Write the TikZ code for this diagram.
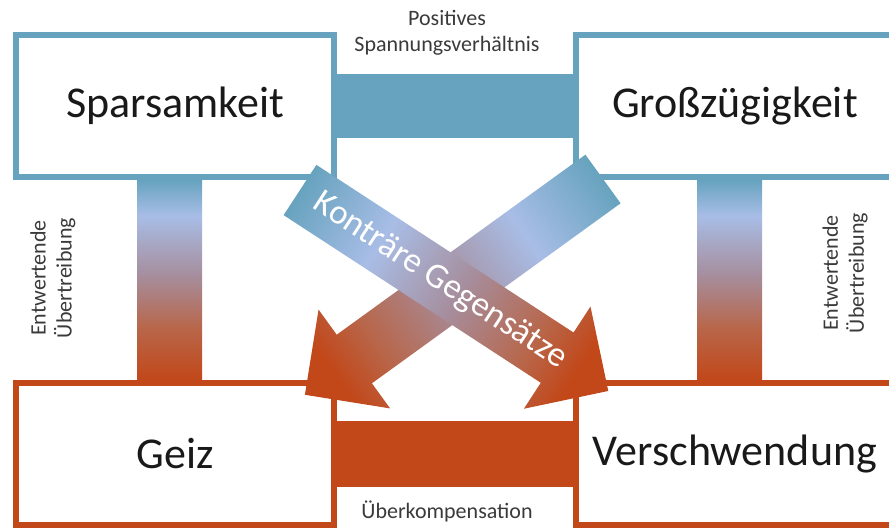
\documentclass[tikz,border=0pt]{standalone}
\usepackage{fontspec}
\setmainfont{Carlito}
\usetikzlibrary{positioning}

\definecolor{posblue}{HTML}{67A3BE}
\definecolor{paleblue}{HTML}{A8BDE6}
\definecolor{mauve}{HTML}{A68D9C}
\definecolor{rust}{HTML}{B8664A}
\definecolor{negred}{HTML}{C2481A}
\definecolor{labelgray}{HTML}{3A3A3A}

\pgfdeclareverticalshading{exaggeration}{100bp}{color(0bp)=(negred); color(25bp)=(negred); color(38bp)=(rust); color(51bp)=(mauve); color(66bp)=(paleblue); color(75bp)=(posblue); color(100bp)=(posblue)}
\pgfdeclarehorizontalshading{contrary}{100bp}{color(0bp)=(posblue); color(25bp)=(posblue); color(38bp)=(paleblue); color(51bp)=(mauve); color(63bp)=(rust); color(70bp)=(negred); color(100bp)=(negred)}

\begin{document}
\begin{tikzpicture}[
    x=1pt, y=-1pt,
    box/.style={draw, line width=6pt, fill=white, inner sep=0pt,
      minimum width=318pt, minimum height=142pt,
      font=\fontsize{44}{48}\selectfont, text=black!90},
    smalltext/.style={align=center, text=labelgray, font=\fontsize{22}{26}\selectfont},
    bigarrow/.style={shading=contrary}
  ]
  \useasboundingbox (0,0) rectangle (889,529);
  \clip (0,0) rectangle (889,529);

  % ---- Boxes ----
  \node[box, draw=posblue] (spar) at (175,106) {Sparsamkeit};
  \node[box, draw=posblue, right=236pt of spar] (gross) {Großzügigkeit};
  \node[box, draw=negred, below=200pt of spar] (geiz) {Geiz};
  \node[box, draw=negred, below=200pt of gross] (versch) {Verschwendung};

  % ---- Bars ----
  \draw[posblue, line width=64pt] (spar) -- (gross);
  \draw[negred, line width=66pt] (geiz) -- (versch);
  \shade[shading=exaggeration] ([xshift=-38pt]spar.south) rectangle ([xshift=27pt]geiz.north);
  \shade[shading=exaggeration] ([xshift=-38pt]gross.south) rectangle ([xshift=27pt]versch.north);

  % ---- Labels ----
  \node[smalltext] (pos) at (447,33) {Positives\\Spannungsverhältnis};
  \node[smalltext] (komp) at (447,511) {Überkompensation};
  \node[smalltext, rotate=90] (lefttag) at (53,278) {Entwertende\\Übertreibung};
  \node[smalltext, rotate=90] (righttag) at (845,273) {Entwertende\\Übertreibung};

  % ---- Contrary arrows ----
  \begin{scope}[transform canvas={shift={(603,179)}, rotate=215.9}]
    \shade[bigarrow] (0,-30) -- (307,-30) -- (307,-61) -- (368,0)
      -- (307,61) -- (307,30) -- (0,30) -- cycle;
  \end{scope}
  \begin{scope}[transform canvas={shift={(300,190)}, rotate=-33.1}]
    \shade[bigarrow] (0,-30) -- (307,-30) -- (307,-61) -- (368,0)
      -- (307,61) -- (307,30) -- (0,30) -- cycle;
    \node[text=white, font=\fontsize{35}{40}\selectfont] (contra) at (167,0) {Konträre Gegensätze};
  \end{scope}
\end{tikzpicture}
\end{document}
